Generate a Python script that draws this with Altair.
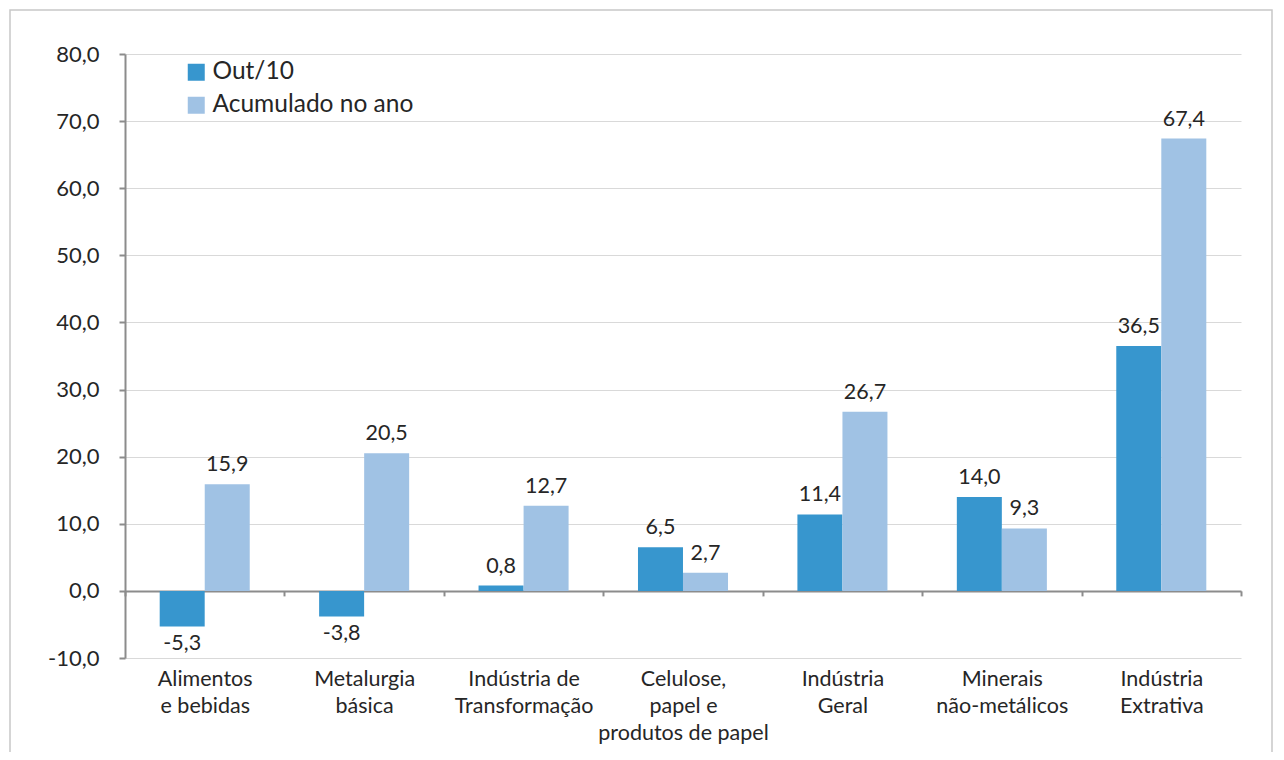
import altair as alt
import pandas as pd

categories = [
    "Alimentos\ne bebidas",
    "Metalurgia\nbásica",
    "Indústria de\nTransformação",
    "Celulose,\npapel e\nprodutos de papel",
    "Indústria\nGeral",
    "Minerais\nnão-metálicos",
    "Indústria\nExtrativa",
]
series_names = ["Out/10", "Acumulado no ano"]
out10 = [-5.3, -3.8, 0.8, 6.5, 11.4, 14.0, 36.5]
acumulado = [15.9, 20.5, 12.7, 2.7, 26.7, 9.3, 67.4]
y_ticks = [-10, 0, 10, 20, 30, 40, 50, 60, 70, 80]
colors = ["#3796CE", "#A0C2E4"]

rows = []
for i, c in enumerate(categories):
    rows.append({"cat": c, "serie": series_names[0], "valor": out10[i]})
    rows.append({"cat": c, "serie": series_names[1], "valor": acumulado[i]})
df = pd.DataFrame(rows)

W, H = 1116, 604
FONT = "Lato"
TXT = "#262626"
AXC = "#8c8c8c"
num_expr = "(datum.valor < 0 ? '-' : '') + replace(format(abs(datum.valor), '.1f'), '.', ',')"
tick_expr = "(datum.value < 0 ? '-' : '') + replace(format(abs(datum.value), '.1f'), '.', ',')"

x = alt.X(
    "cat:N", sort=categories,
    scale=alt.Scale(paddingInner=0, paddingOuter=0),
    axis=alt.Axis(
        title=None, labelAngle=0, offset=-H * 10 / 90, labelPadding=73,
        tickBand="extent", domainColor=AXC, domainWidth=2, tickColor=AXC,
        tickWidth=2, tickSize=5, labelExpr="split(datum.label, '\\n')",
        labelLineHeight=27, labelFontSize=21.5, labelFont=FONT, labelColor=TXT,
        grid=False, labelBaseline="top",
    ),
)
xo = alt.XOffset("serie:N", sort=series_names,
                 scale=alt.Scale(paddingInner=0, paddingOuter=0.77))
y = alt.Y(
    "valor:Q",
    scale=alt.Scale(domain=[-10, 80], nice=False, zero=False),
    axis=alt.Axis(
        title=None, values=y_ticks, labelExpr=tick_expr, grid=True,
        gridColor="#d9d9d9", gridWidth=1, domainColor=AXC, domainWidth=2,
        tickColor=AXC, tickWidth=2, tickSize=6, labelPadding=20,
        labelFontSize=22, labelFont=FONT, labelColor=TXT,
    ),
)
color = alt.Color(
    "serie:N", sort=series_names,
    scale=alt.Scale(domain=series_names, range=colors),
    legend=alt.Legend(
        title=None, orient="none", legendX=59, legendY=6, padding=0,
        symbolType="square", symbolSize=289, symbolStrokeWidth=0,
        labelFontSize=24.5, labelFont=FONT, labelColor=TXT, rowPadding=8,
        labelOffset=4, labelLimit=0,
    ),
)

base = alt.Chart(df)
bars = base.mark_bar(size=45).encode(x=x, xOffset=xo, y=y, color=color)
pos = base.transform_filter("datum.valor >= 0").transform_calculate(lbl=num_expr).mark_text(
    baseline="alphabetic", dy=-13, fontSize=21.5, font=FONT, color=TXT
).encode(x=x, xOffset=xo, y=y, text="lbl:N")
neg = base.transform_filter("datum.valor < 0").transform_calculate(lbl=num_expr).mark_text(
    baseline="alphabetic", dy=24, fontSize=21.5, font=FONT, color=TXT
).encode(x=x, xOffset=xo, y=y, text="lbl:N")

frame = alt.Chart(pd.DataFrame({"a": [0]})).mark_rect(
    fill=None, stroke="#c8c8c8", strokeWidth=1.5
).encode(
    x=alt.value(-115), x2=alt.value(W + 31), y=alt.value(-44), y2=alt.value(H + 200)
)

chart = alt.layer(frame, bars, pos, neg).properties(
    width=W, height=H,
    autosize=alt.AutoSizeParams(type="none"),
    padding={"left": 117, "top": 46, "right": 35, "bottom": 94},
).configure_view(stroke=None)

chart.save("out.html", embed_options={"renderer": "svg", "actions": False})
